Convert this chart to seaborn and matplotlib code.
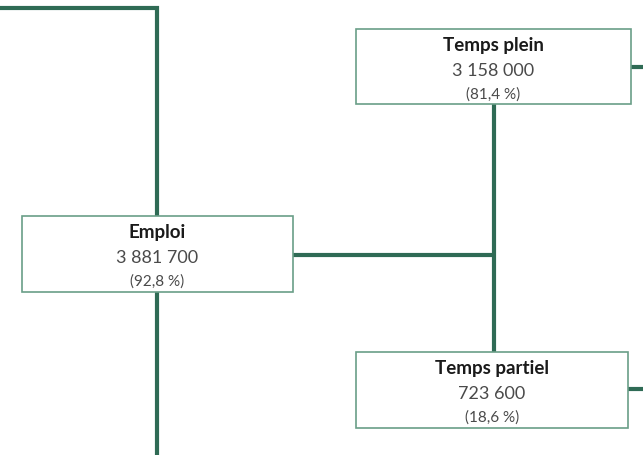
import matplotlib.pyplot as plt
import matplotlib.patches as patches
import seaborn as sns

# node data
labels = ["Emploi", "Temps plein", "Temps partiel"]
values = ["3 881 700", "3 158 000", "723 600"]
shares = ["(92,8 %)", "(81,4 %)", "(18,6 %)"]

# box geometry in pixel coordinates (x0, y0, x1, y1)
boxes = [(22, 217, 293, 293), (356, 30, 631, 105), (356, 353, 628, 429)]

LINE = "#2f6b55"
EDGE = "#6a9e88"

sns.set_theme(style="white")
plt.rcParams["font.family"] = ["Lato", "DejaVu Sans"]

fig = plt.figure(figsize=(6.43, 4.56), dpi=100)
ax = fig.add_axes([0, 0, 1, 1])
ax.set_xlim(0, 643)
ax.set_ylim(456, 0)
ax.axis("off")

# connectors
segments = [
    ([0, 157, 157], [9, 9, 217]),
    ([157, 157], [293, 456]),
    ([293, 494], [256, 256]),
    ([494, 494], [105, 353]),
    ([631, 643], [68, 68]),
    ([628, 643], [390, 390]),
]
for xs, ys in segments:
    sns.lineplot(x=xs, y=ys, sort=False, estimator=None, color=LINE, linewidth=3,
                 ax=ax, solid_capstyle="butt", solid_joinstyle="miter")

for (x0, y0, x1, y1), lab, val, sh in zip(boxes, labels, values, shares):
    ax.add_patch(patches.Rectangle((x0, y0), x1 - x0, y1 - y0, facecolor="white",
                                   edgecolor=EDGE, linewidth=1.2, zorder=3))
    cx = (x0 + x1) / 2
    ax.text(cx, y0 + 16, lab, ha="center", va="center", fontsize=13.5,
            fontweight="bold", color="#1a1a1a", zorder=4)
    ax.text(cx, y0 + 41, val, ha="center", va="center", fontsize=13,
            color="#4a4a4a", zorder=4)
    ax.text(cx, y0 + 65, sh, ha="center", va="center", fontsize=11,
            color="#4a4a4a", zorder=4)

fig.savefig("out.png", dpi=100)
